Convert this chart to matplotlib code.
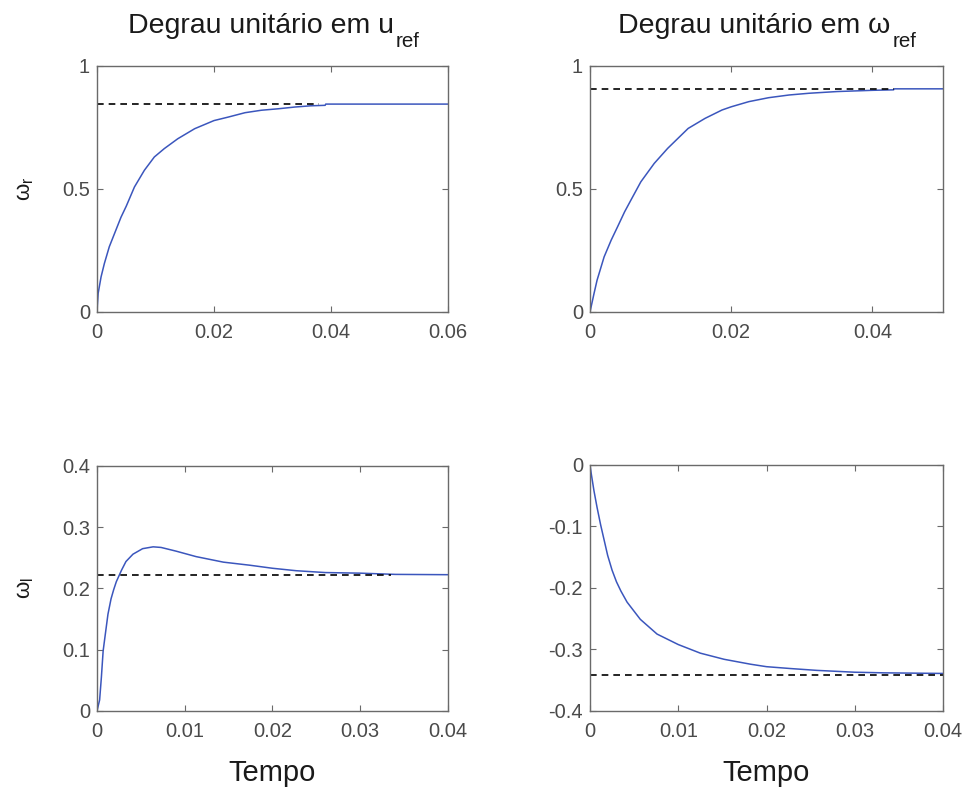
import matplotlib
matplotlib.use('Agg')
import matplotlib.pyplot as plt

plt.rcParams['font.family'] = ['Liberation Sans', 'DejaVu Sans']
plt.rcParams['mathtext.fontset'] = 'custom'
plt.rcParams['mathtext.rm'] = 'Liberation Sans'
plt.rcParams['mathtext.it'] = 'Liberation Sans:italic'
plt.rcParams['axes.unicode_minus'] = False

# step in u_ref -> speed omega_r
t_wr_u = [0, 0.0002, 0.0007, 0.00126, 0.0021, 0.003, 0.0041, 0.005, 0.0064,
          0.0081, 0.0098, 0.0115, 0.0138, 0.0167, 0.020, 0.0224, 0.0253,
          0.0281, 0.031, 0.0338, 0.0365, 0.039, 0.0391, 0.060]
wr_u = [0, 0.076, 0.143, 0.197, 0.265, 0.319, 0.385, 0.43, 0.508,
        0.576, 0.63, 0.664, 0.704, 0.745, 0.778, 0.792, 0.81,
        0.82, 0.826, 0.833, 0.838, 0.840, 0.845, 0.845]
wr_u_final = 0.845
wr_u_tend = 0.038

# step in omega_ref -> speed omega_r
t_wr_w = [0, 0.00057, 0.001, 0.002, 0.003, 0.0039, 0.0049, 0.0058, 0.0072,
          0.0091, 0.011, 0.0139, 0.0163, 0.0187, 0.020, 0.0225, 0.0253,
          0.0282, 0.031, 0.035, 0.040, 0.043, 0.0431, 0.050]
wr_w = [0, 0.075, 0.129, 0.224, 0.292, 0.346, 0.407, 0.455, 0.529,
        0.604, 0.665, 0.746, 0.787, 0.821, 0.834, 0.855, 0.871,
        0.882, 0.889, 0.896, 0.901, 0.903, 0.907, 0.907]
wr_w_final = 0.907
wr_w_tend = 0.043

# step in u_ref -> load speed omega_l
t_wl_u = [0, 0.0003, 0.0005, 0.0007, 0.0009, 0.00125, 0.0016, 0.0019, 0.0022,
          0.0028, 0.0033, 0.0041, 0.0052, 0.0064, 0.0073, 0.009, 0.0113,
          0.0144, 0.0174, 0.020, 0.0227, 0.026, 0.030, 0.034, 0.040]
wl_u = [0, 0.018, 0.055, 0.098, 0.12, 0.158, 0.183, 0.198, 0.211,
        0.23, 0.244, 0.256, 0.265, 0.268, 0.267, 0.261, 0.252,
        0.243, 0.238, 0.233, 0.229, 0.226, 0.225, 0.223, 0.2225]
wl_u_final = 0.2225
wl_u_tend = 0.0335

# step in omega_ref -> load speed omega_l
t_wl_w = [0, 0.00015, 0.00045, 0.0008, 0.0012, 0.0016, 0.002, 0.0025, 0.003,
          0.0035, 0.0042, 0.0057, 0.0076, 0.010, 0.0125, 0.0152, 0.0182,
          0.020, 0.0227, 0.0257, 0.030, 0.0333, 0.040]
wl_w = [0, -0.015, -0.042, -0.069, -0.097, -0.122, -0.147, -0.171, -0.19,
        -0.205, -0.223, -0.251, -0.275, -0.292, -0.306, -0.316, -0.324,
        -0.328, -0.331, -0.334, -0.337, -0.338, -0.339]
wl_w_final = -0.341
wl_w_tend = 0.040

frame = '#6a6a6a'
tickc = '#4a4a4a'
textc = '#1a1a1a'
blue = '#3b56bd'

fig = plt.figure(figsize=(9.68, 7.89), dpi=100)
ax_tl = fig.add_axes([0.1002, 0.6046, 0.3626, 0.3118])
ax_tr = fig.add_axes([0.6095, 0.6046, 0.3647, 0.3118])
ax_bl = fig.add_axes([0.1002, 0.0989, 0.3626, 0.3105])
ax_br = fig.add_axes([0.6095, 0.0989, 0.3647, 0.3118])

panels = [
    (ax_tl, t_wr_u, wr_u, wr_u_final, wr_u_tend, (0, 0.06), [0, 0.02, 0.04, 0.06],
     ['0', '0.02', '0.04', '0.06'], (0, 1), [0, 0.5, 1], ['0', '0.5', '1']),
    (ax_tr, t_wr_w, wr_w, wr_w_final, wr_w_tend, (0, 0.05), [0, 0.02, 0.04],
     ['0', '0.02', '0.04'], (0, 1), [0, 0.5, 1], ['0', '0.5', '1']),
    (ax_bl, t_wl_u, wl_u, wl_u_final, wl_u_tend, (0, 0.04), [0, 0.01, 0.02, 0.03, 0.04],
     ['0', '0.01', '0.02', '0.03', '0.04'], (0, 0.4), [0, 0.1, 0.2, 0.3, 0.4],
     ['0', '0.1', '0.2', '0.3', '0.4']),
    (ax_br, t_wl_w, wl_w, wl_w_final, wl_w_tend, (0, 0.04), [0, 0.01, 0.02, 0.03, 0.04],
     ['0', '0.01', '0.02', '0.03', '0.04'], (-0.4, 0), [-0.4, -0.3, -0.2, -0.1, 0],
     ['-0.4', '-0.3', '-0.2', '-0.1', '0']),
]

for ax, t, y, yf, tend, xl, xt, xtl, yl, yt, ytl in panels:
    ax.plot(t, y, color=blue, lw=1.1)
    ax.plot([0, tend], [yf, yf], color='black', lw=1.2, ls=(0, (4, 3)))
    ax.set_xlim(xl)
    ax.set_ylim(yl)
    ax.set_xticks(xt)
    ax.set_xticklabels(xtl)
    ax.set_yticks(yt)
    ax.set_yticklabels(ytl)
    ax.tick_params(direction='in', length=4, width=0.8, colors=frame,
                   labelcolor=tickc, labelsize=14.5, top=True, right=True)
    ax.tick_params(axis='x', pad=8)
    ax.tick_params(axis='y', pad=5)
    for s in ax.spines.values():
        s.set_color(frame)
        s.set_linewidth(1.0)


def title_with_sub(ax, main, sub):
    # main text plus a dropped subscript, centred together over the axes
    txt = ax.text(0.466, 1.134, main, transform=ax.transAxes, ha='center',
                  va='baseline', fontsize=20.5, color=textc)
    ax.annotate(sub, xy=(1, 1.0785), xycoords=(txt, ax.transAxes),
                xytext=(1.5, 0), textcoords='offset points', ha='left',
                va='baseline', fontsize=14.8, color=textc)


title_with_sub(ax_tl, 'Degrau unitário em u', 'ref')
title_with_sub(ax_tr, 'Degrau unitário em ω', 'ref')

ax_tl.set_ylabel('ω$_{\\mathregular{r}}$', fontsize=16, color=textc)
ax_bl.set_ylabel('ω$_{\\mathregular{l}}$', fontsize=16, color=textc)
ax_tl.yaxis.set_label_coords(-0.175, 0.5)
ax_bl.yaxis.set_label_coords(-0.175, 0.5)

ax_bl.set_xlabel('Tempo', fontsize=21, color=textc, labelpad=13)
ax_br.set_xlabel('Tempo', fontsize=21, color=textc, labelpad=13)

fig.savefig('out.png', dpi=100)
